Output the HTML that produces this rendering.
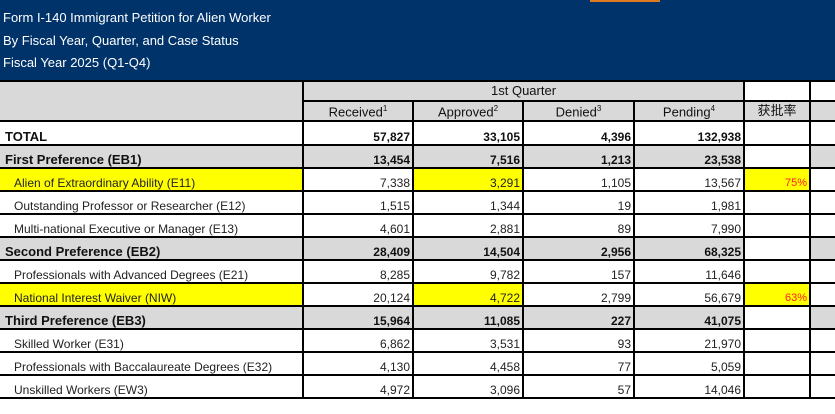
<!DOCTYPE html>
<html><head><meta charset="utf-8"><style>
body{margin:0;width:835px;height:414px;background:#fff;overflow:hidden;font-family:"Liberation Sans","Noto Sans CJK SC",sans-serif;position:relative;}
.hdr{position:absolute;left:0;top:0;width:835px;height:80px;background:#00336a;color:#fff;font-size:13px;}
.hdr div{position:absolute;left:3px;}
.orange{position:absolute;left:590px;top:0;width:70px;height:2px;background:#e07a20;}
table{position:absolute;left:-2px;top:80px;width:871px;border-collapse:collapse;table-layout:fixed;font-size:12px;}
td{border:2px solid #000;padding:0 2px 0 2px;white-space:nowrap;overflow:hidden;vertical-align:bottom;height:21px;line-height:14px;color:#222;}
td.n{text-align:right;}
tr.h td{height:18px;text-align:center;background:#d9d9d9;color:#111;font-size:13px;vertical-align:middle;}
tr.g td{background:#d9d9d9;}
tr.b td{font-weight:bold;color:#111;}
td.l{padding-left:14px;text-align:left;}
td.lb{padding-left:5px;font-size:13px;}
.y{background:#ffff00 !important;}
.r{color:#ff2020;text-align:right;font-size:11px;}
.w{background:#fff !important;}
sup{font-size:8px;}
</style></head><body>
<div class="hdr"><div style="top:10px">Form I-140 Immigrant Petition for Alien Worker</div><div style="top:33px">By Fiscal Year, Quarter, and Case Status</div><div style="top:55px">Fiscal Year 2025 (Q1-Q4)</div></div>
<div class="orange"></div>
<table>
<colgroup><col style="width:304px"><col style="width:110px"><col style="width:110px"><col style="width:111px"><col style="width:110px"><col style="width:66px"><col style="width:60px"></colgroup>
<tr class="h"><td rowspan="2" style="height:38px"></td><td colspan="4">1st Quarter</td><td class="w"></td><td class="w"></td></tr>
<tr class="h"><td>Received<sup>1</sup></td><td>Approved<sup>2</sup></td><td>Denied<sup>3</sup></td><td>Pending<sup>4</sup></td><td>获批率</td><td></td></tr>
<tr class="b" style="height:24px"><td class="lb" style="height:22px">TOTAL</td><td class="n">57,827</td><td class="n">33,105</td><td class="n">4,396</td><td class="n">132,938</td><td></td><td></td></tr>
<tr class="b g"><td class="lb">First Preference (EB1)</td><td class="n">13,454</td><td class="n">7,516</td><td class="n">1,213</td><td class="n">23,538</td><td class="w"></td><td></td></tr>
<tr><td class="l y">Alien of Extraordinary Ability (E11)</td><td class="n">7,338</td><td class="n y">3,291</td><td class="n">1,105</td><td class="n">13,567</td><td class="y r">75%</td><td></td></tr>
<tr><td class="l">Outstanding Professor or Researcher (E12)</td><td class="n">1,515</td><td class="n">1,344</td><td class="n">19</td><td class="n">1,981</td><td></td><td></td></tr>
<tr><td class="l">Multi-national Executive or Manager (E13)</td><td class="n">4,601</td><td class="n">2,881</td><td class="n">89</td><td class="n">7,990</td><td></td><td></td></tr>
<tr class="b g"><td class="lb">Second Preference (EB2)</td><td class="n">28,409</td><td class="n">14,504</td><td class="n">2,956</td><td class="n">68,325</td><td class="w"></td><td></td></tr>
<tr><td class="l">Professionals with Advanced Degrees (E21)</td><td class="n">8,285</td><td class="n">9,782</td><td class="n">157</td><td class="n">11,646</td><td></td><td></td></tr>
<tr><td class="l y">National Interest Waiver (NIW)</td><td class="n">20,124</td><td class="n y">4,722</td><td class="n">2,799</td><td class="n">56,679</td><td class="y r">63%</td><td></td></tr>
<tr class="b g"><td class="lb">Third Preference (EB3)</td><td class="n">15,964</td><td class="n">11,085</td><td class="n">227</td><td class="n">41,075</td><td class="w"></td><td></td></tr>
<tr><td class="l">Skilled Worker (E31)</td><td class="n">6,862</td><td class="n">3,531</td><td class="n">93</td><td class="n">21,970</td><td></td><td></td></tr>
<tr><td class="l">Professionals with Baccalaureate Degrees (E32)</td><td class="n">4,130</td><td class="n">4,458</td><td class="n">77</td><td class="n">5,059</td><td></td><td></td></tr>
<tr><td class="l">Unskilled Workers (EW3)</td><td class="n">4,972</td><td class="n">3,096</td><td class="n">57</td><td class="n">14,046</td><td></td><td></td></tr>
</table>
</body></html>
